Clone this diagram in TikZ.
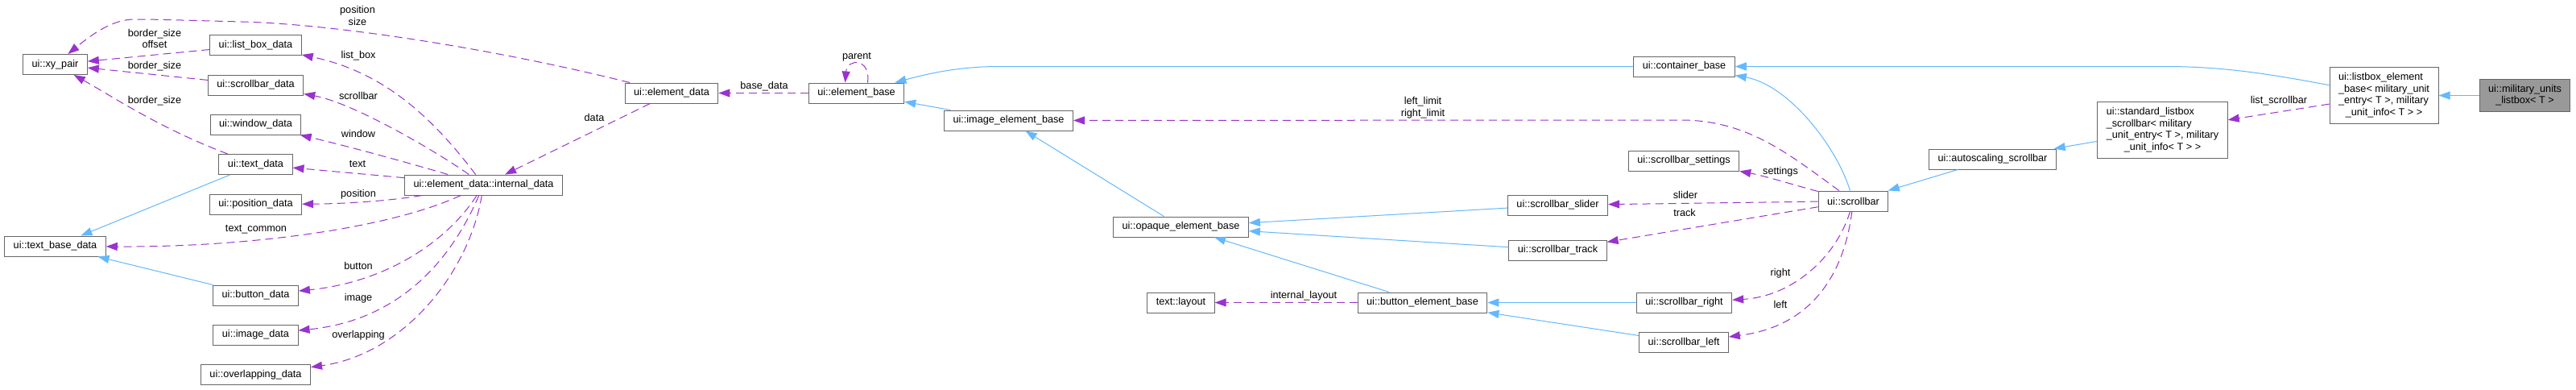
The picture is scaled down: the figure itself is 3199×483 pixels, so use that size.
\documentclass[tikz,border=0pt]{standalone}
\usepackage{fontspec}
\setmainfont{Liberation Sans}
\usetikzlibrary{arrows.meta}

\definecolor{inhblue}{HTML}{63B8FF}
\definecolor{memberpurple}{HTML}{9A32CD}
\definecolor{nodeborder}{HTML}{666666}
\definecolor{focusfill}{HTML}{999999}

\begin{document}
\begin{tikzpicture}[x=0.75pt, y=-0.75pt,
    every node/.style={font=\fontsize{9.5}{11}\selectfont},
    cls/.style={draw=nodeborder, fill=white, line width=0.75pt, minimum height=18.75pt, inner xsep=8.25pt, inner ysep=3.9pt},
    focus/.style={cls, fill=focusfill},
    inherit/.style={draw=inhblue, line width=0.75pt, -{Triangle[length=10.5pt,width=7.5pt]}},
    member/.style={draw=memberpurple, line width=0.75pt, dash pattern=on 7.5pt off 4.5pt, -{Triangle[length=10.5pt,width=7.5pt]}},
    lbl/.style={inner sep=0pt, align=center}]
        \path[use as bounding box, fill=white] (0,0) rectangle (3199,483);

        % Draw nodes
        \node[cls] (xypair) at (68.5,80) {ui::xy\_pair};
        \node[cls] (listboxdata) at (317.5,56) {ui::list\_box\_data};
        \node[cls] (scrollbardata) at (317.5,105.5) {ui::scrollbar\_data};
        \node[cls] (windowdata) at (317.5,154.5) {ui::window\_data};
        \node[cls] (textdata) at (317.5,204) {ui::text\_data};
        \node[cls] (positiondata) at (317.5,253.5) {ui::position\_data};
        \node[cls] (textbasedata) at (68.5,305.5) {ui::text\_base\_data};
        \node[cls] (buttondata) at (317.5,366.5) {ui::button\_data};
        \node[cls] (imagedata) at (317.5,415.5) {ui::image\_data};
        \node[cls] (overlappingdata) at (317.5,465) {ui::overlapping\_data};
        \node[cls] (internaldata) at (600.5,229.5) {ui::element\_data::internal\_data};
        \node[cls] (elemdata) at (834,115.5) {ui::element\_data};
        \node[cls] (elembase) at (1063.5,115.5) {ui::element\_base};
        \node[cls] (imageelembase) at (1252.5,149.5) {ui::image\_element\_base};
        \node[cls] (opaqueelembase) at (1466.5,281.5) {ui::opaque\_element\_base};
        \node[cls] (textlayout) at (1466.5,375.5) {text::layout};
        \node[cls] (buttonelembase) at (1766.5,375.5) {ui::button\_element\_base};
        \node[cls] (containerbase) at (2091.5,82.5) {ui::container\_base};
        \node[cls] (sbsettings) at (2091,199.5) {ui::scrollbar\_settings};
        \node[cls] (sbslider) at (1934.5,254.5) {ui::scrollbar\_slider};
        \node[cls] (sbtrack) at (1934.5,310.5) {ui::scrollbar\_track};
        \node[cls] (sbright) at (2091.5,375.5) {ui::scrollbar\_right};
        \node[cls] (sbleft) at (2091,425) {ui::scrollbar\_left};
        \node[cls] (scrollbar) at (2301.5,249.5) {ui::scrollbar};
        \node[cls] (autoscaling) at (2474.5,197.5) {ui::autoscaling\_scrollbar};
        \node[cls] (stdlistbox) at (2685.5,161.5) {\begin{tabular}{@{}l@{}}ui::standard\_listbox\\\_scrollbar< military\\\_unit\_entry< T >, military\\\multicolumn{1}{@{}c@{}}{\_unit\_info< T > >}\end{tabular}};
        \node[cls] (listboxelem) at (2960.5,118.5) {\begin{tabular}{@{}l@{}}ui::listbox\_element\\\_base< military\_unit\\\_entry< T >, military\\\multicolumn{1}{@{}c@{}}{\_unit\_info< T > >}\end{tabular}};
        \node[focus] (military) at (3135.5,118.5) {\begin{tabular}{@{}c@{}}ui::military\_units\\\_listbox< T >\end{tabular}};

        % Draw connections (inheritance)
        \draw[inherit] (military) -- (listboxelem);
        \draw[inherit] (listboxelem) .. controls (2820,92) and (2760,82.5) .. (2690,82.5) -- (containerbase);
        \draw[inherit] (containerbase) -- (1240,82.5) .. controls (1190,82.5) and (1150,92) .. (elembase);
        \draw[inherit] (imageelembase) -- (elembase);
        \draw[inherit] (opaqueelembase) -- (imageelembase);
        \draw[inherit] (sbslider) -- (opaqueelembase);
        \draw[inherit] (sbtrack) -- (opaqueelembase);
        \draw[inherit] (buttonelembase) -- (opaqueelembase);
        \draw[inherit] (sbright) -- (buttonelembase);
        \draw[inherit] (sbleft) -- (buttonelembase);
        \draw[inherit] (scrollbar) .. controls (2280,180) and (2220,105) .. (containerbase);
        \draw[inherit] (autoscaling) -- (scrollbar);
        \draw[inherit] (stdlistbox) -- (autoscaling);
        \draw[inherit] (textdata) -- (textbasedata);
        \draw[inherit] (buttondata) -- (textbasedata);

        % Draw connections (members)
        \draw[member] (elemdata) .. controls (620,62) and (420,30) .. (300,27) .. controls (240,25.5) and (200,24) .. (167,24) .. controls (140,24) and (115,42) .. (xypair);
        \draw[member] (listboxdata) -- (xypair);
        \draw[member] (scrollbardata) -- (xypair);
        \draw[member] (textdata) .. controls (200,160) and (140,120) .. (xypair);
        \draw[member] (internaldata) .. controls (540,150) and (480,90) .. (listboxdata);
        \draw[member] (internaldata) .. controls (545,190) and (440,128) .. (scrollbardata);
        \draw[member] (internaldata) .. controls (500,200) and (430,181) .. (windowdata);
        \draw[member] (internaldata) -- (textdata);
        \draw[member] (internaldata) .. controls (480,250) and (420,253) .. (positiondata);
        \draw[member] (internaldata) .. controls (480,285) and (300,307) .. (textbasedata);
        \draw[member] (internaldata) .. controls (555,300) and (480,350) .. (buttondata);
        \draw[member] (internaldata) .. controls (574,290) and (520,395) .. (imagedata);
        \draw[member] (internaldata) .. controls (582,340) and (500,440) .. (overlappingdata);
        \draw[member] (elemdata) -- (internaldata);
        \draw[member] (elembase) -- (elemdata);
        \draw[member] (elembase.43) .. controls (1082,72) and (1052,72) .. (elembase.137);
        \draw[member] (scrollbar) .. controls (2220,190) and (2170,150) .. (2090,149) -- (imageelembase);
        \draw[member] (scrollbar) .. controls (2230,230) and (2190,218) .. (sbsettings);
        \draw[member] (scrollbar) -- (sbslider);
        \draw[member] (scrollbar) -- (sbtrack);
        \draw[member] (scrollbar) .. controls (2280,320) and (2225,368) .. (sbright);
        \draw[member] (scrollbar) .. controls (2290,340) and (2250,405) .. (sbleft);
        \draw[member] (listboxelem) -- (stdlistbox);
        \draw[member] (buttonelembase) -- (textlayout);

        % Labels
        \node[lbl] (lpossize) at (444,19.5) {position\\size};
        \node[lbl] (lborderoff) at (192,48) {border\_size\\offset};
        \node[lbl] (lbordersb) at (192,82) {border\_size};
        \node[lbl] (lbordertxt) at (192,125) {border\_size};
        \node[lbl] (llistbox) at (445,69) {list\_box};
        \node[lbl] (lscrollbar) at (445,119) {scrollbar};
        \node[lbl] (lwindow) at (445,166) {window};
        \node[lbl] (ltext) at (444,203) {text};
        \node[lbl] (lposition) at (445,241) {position};
        \node[lbl] (ltextcommon) at (318,285) {text\_common};
        \node[lbl] (lbutton) at (445,330) {button};
        \node[lbl] (limage) at (445,370) {image};
        \node[lbl] (loverlap) at (445,416) {overlapping};
        \node[lbl] (ldata) at (738,146) {data};
        \node[lbl] (lbasedata) at (949,107) {base\_data};
        \node[lbl] (lparent) at (1064,71) {parent};
        \node[lbl] (llimits) at (1767,133.5) {left\_limit\\right\_limit};
        \node[lbl] (lsettings) at (2211,213) {settings};
        \node[lbl] (lslider) at (2093,242) {slider};
        \node[lbl] (ltrack) at (2092,264) {track};
        \node[lbl] (lright) at (2211,339) {right};
        \node[lbl] (lleft) at (2211,378) {left};
        \node[lbl] (llistsb) at (2830,125) {list\_scrollbar};
        \node[lbl] (llayout) at (1619,367) {internal\_layout};
    \end{tikzpicture}
\end{document}
